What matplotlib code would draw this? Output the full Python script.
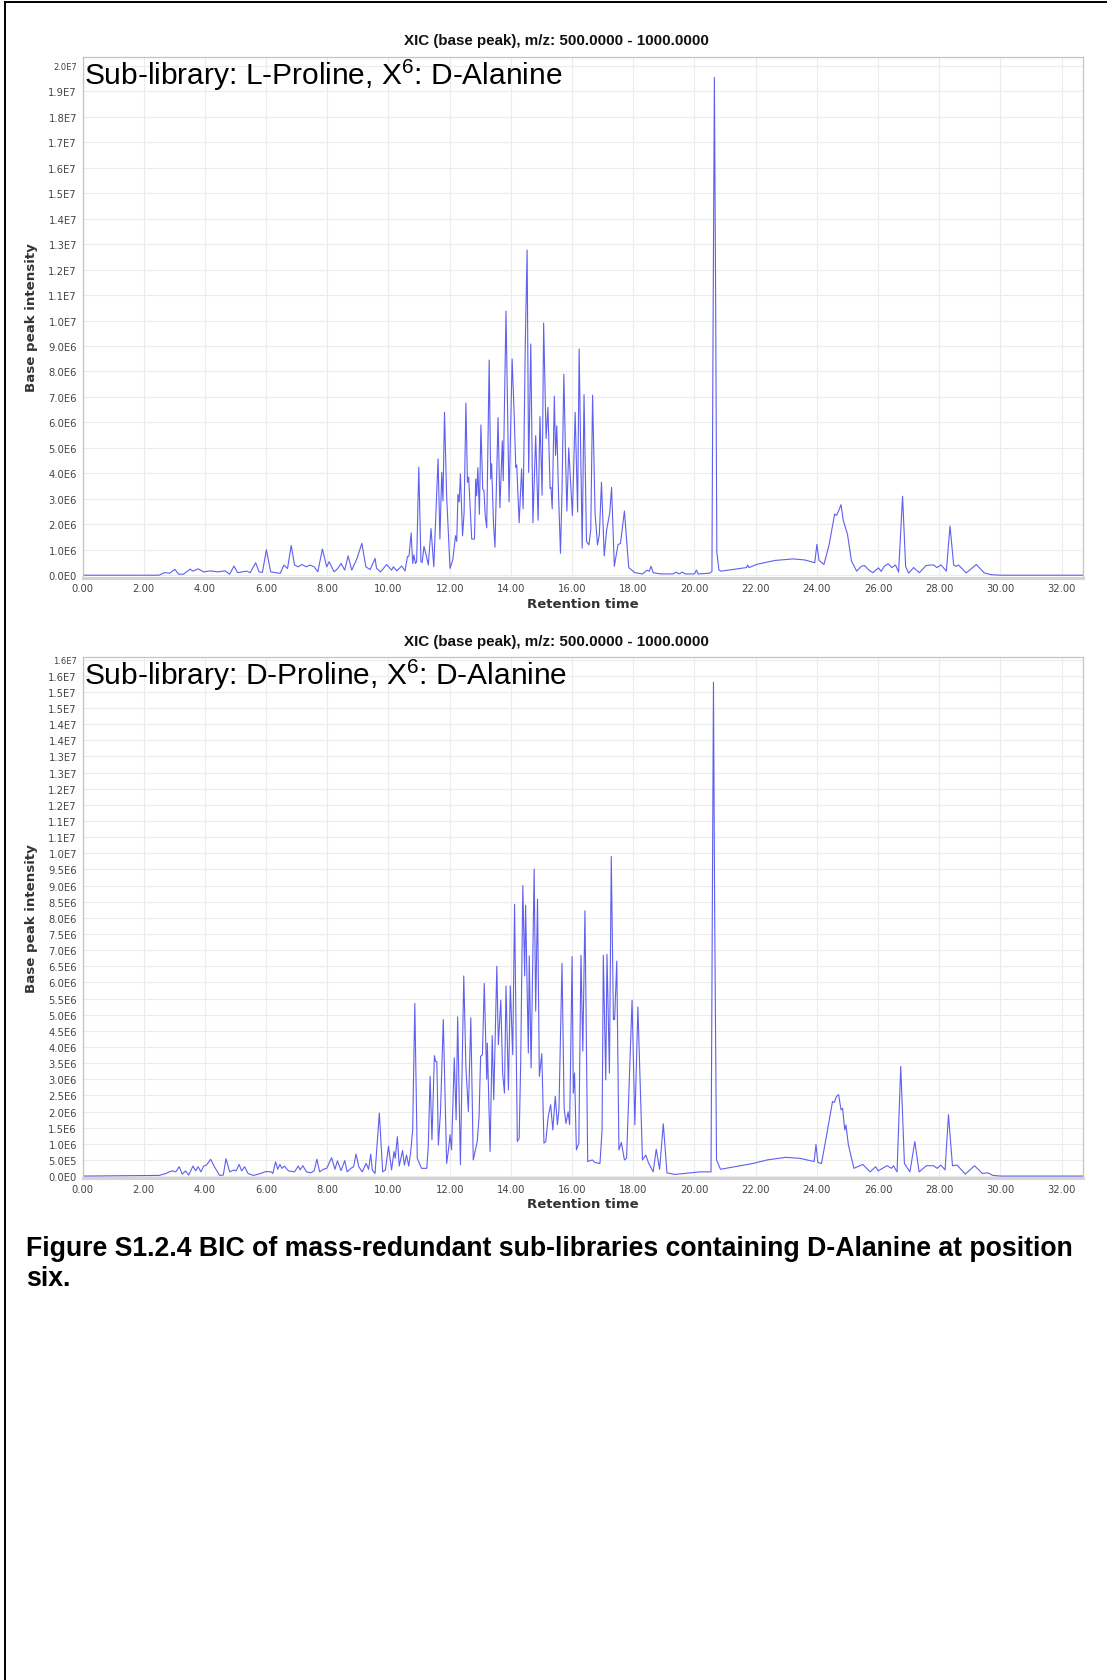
import numpy as np
import matplotlib
matplotlib.use("Agg")
import matplotlib.pyplot as plt
from matplotlib.lines import Line2D

plt.rcParams['font.family'] = ['DejaVu Sans']

# retention time (min) and base peak intensity (x1e6)
top_time = [
    0.00, 2.50, 2.67, 2.85, 3.02, 3.14, 3.30, 3.52, 3.60, 3.78,
    3.96, 4.19, 4.42, 4.66, 4.81, 4.95, 5.07, 5.36, 5.48, 5.66,
    5.77, 5.88, 6.01, 6.15, 6.46, 6.58, 6.70, 6.82, 6.93, 7.05,
    7.17, 7.32, 7.43, 7.57, 7.69, 7.84, 7.98, 8.06, 8.22, 8.34,
    8.45, 8.57, 8.68, 8.80, 8.97, 9.13, 9.26, 9.40, 9.56, 9.61,
    9.74, 9.94, 10.10, 10.16, 10.27, 10.43, 10.54, 10.62, 10.67, 10.74,
    10.79, 10.83, 10.88, 10.92, 10.99, 11.06, 11.10, 11.16, 11.23, 11.30,
    11.39, 11.48, 11.62, 11.68, 11.74, 11.78, 11.83, 11.90, 12.01, 12.10,
    12.19, 12.23, 12.27, 12.31, 12.35, 12.42, 12.47, 12.53, 12.58, 12.62,
    12.72, 12.81, 12.85, 12.88, 12.92, 12.97, 13.02, 13.08, 13.12, 13.16,
    13.21, 13.29, 13.34, 13.37, 13.43, 13.48, 13.58, 13.64, 13.72, 13.75,
    13.84, 13.94, 14.04, 14.10, 14.16, 14.19, 14.27, 14.35, 14.40, 14.47,
    14.53, 14.58, 14.65, 14.72, 14.81, 14.89, 14.95, 15.02, 15.07, 15.15,
    15.21, 15.28, 15.31, 15.35, 15.42, 15.46, 15.50, 15.55, 15.62, 15.67,
    15.73, 15.79, 15.83, 15.89, 15.95, 16.01, 16.10, 16.18, 16.23, 16.33,
    16.39, 16.47, 16.55, 16.61, 16.67, 16.75, 16.83, 16.89, 16.96, 17.05,
    17.13, 17.23, 17.29, 17.38, 17.50, 17.58, 17.71, 17.85, 18.05, 18.30,
    18.45, 18.52, 18.58, 18.65, 18.90, 19.30, 19.40, 19.50, 19.60, 19.70,
    20.00, 20.06, 20.12, 20.50, 20.57, 20.61, 20.65, 20.69, 20.73, 20.80,
    20.87, 21.40, 21.70, 21.74, 21.78, 22.05, 22.63, 23.22, 23.60, 23.93,
    24.00, 24.07, 24.23, 24.40, 24.58, 24.64, 24.70, 24.79, 24.86, 25.00,
    25.13, 25.30, 25.45, 25.56, 25.70, 25.83, 26.01, 26.10, 26.20, 26.33,
    26.45, 26.57, 26.67, 26.80, 26.90, 27.00, 27.16, 27.35, 27.57, 27.70,
    27.82, 27.92, 28.06, 28.23, 28.35, 28.47, 28.55, 28.63, 28.88, 29.21,
    29.47, 29.70, 30.00, 32.68,
]
top_intensity = [
    0, 0, 0.10, 0.08, 0.23, 0.04, 0.04, 0.24, 0.16, 0.25,
    0.13, 0.17, 0.13, 0.17, 0.04, 0.36, 0.10, 0.16, 0.10, 0.49,
    0.13, 0.11, 1.00, 0.13, 0.07, 0.40, 0.26, 1.17, 0.40, 0.33,
    0.42, 0.33, 0.40, 0.33, 0.13, 1.03, 0.33, 0.53, 0.13, 0.26,
    0.46, 0.20, 0.76, 0.20, 0.66, 1.25, 0.33, 0.22, 0.66, 0.27,
    0.13, 0.42, 0.20, 0.33, 0.17, 0.36, 0.17, 0.73, 0.75, 1.66,
    0.46, 0.80, 0.46, 0.53, 4.24, 0.53, 0.50, 1.13, 0.80, 0.40,
    1.83, 0.33, 4.57, 1.42, 4.04, 2.92, 6.40, 3.12, 0.27, 0.60,
    1.55, 1.33, 3.18, 2.88, 3.98, 1.55, 2.45, 6.76, 3.65, 3.85,
    1.42, 1.42, 3.78, 3.12, 4.22, 2.39, 5.90, 3.38, 3.32, 2.35,
    1.86, 8.45, 3.78, 4.38, 2.06, 1.10, 6.19, 2.65, 5.28, 3.71,
    10.37, 2.88, 8.49, 6.56, 4.24, 4.33, 2.06, 4.18, 2.61, 9.08,
    12.77, 4.04, 9.08, 2.06, 5.48, 2.16, 6.23, 3.14, 9.90, 5.37,
    6.59, 3.41, 3.45, 2.61, 7.03, 4.71, 5.87, 3.45, 0.86, 3.25,
    7.89, 4.44, 2.52, 5.00, 3.65, 2.35, 6.40, 2.48, 8.88, 1.06,
    7.09, 1.33, 1.19, 1.79, 7.07, 2.45, 1.19, 1.59, 3.65, 0.76,
    1.79, 2.45, 3.45, 0.35, 1.20, 1.25, 2.52, 0.30, 0.10, 0.05,
    0.20, 0.15, 0.35, 0.10, 0.05, 0.05, 0.12, 0.05, 0.12, 0.05,
    0.05, 0.20, 0.05, 0.08, 0.15, 10.5, 19.55, 11.0, 0.90, 0.20,
    0.16, 0.25, 0.30, 0.40, 0.30, 0.43, 0.58, 0.64, 0.60, 0.49,
    1.21, 0.58, 0.42, 1.20, 2.40, 2.35, 2.50, 2.77, 2.16, 1.60,
    0.56, 0.16, 0.35, 0.38, 0.20, 0.10, 0.29, 0.15, 0.35, 0.45,
    0.30, 0.40, 0.12, 3.10, 0.34, 0.08, 0.30, 0.10, 0.38, 0.40,
    0.40, 0.30, 0.40, 0.16, 1.93, 0.40, 0.35, 0.40, 0.09, 0.42,
    0.09, 0.02, 0, 0,
]

bottom_time = [
    0.00, 2.50, 2.73, 2.83, 2.94, 3.05, 3.16, 3.26, 3.37, 3.47,
    3.61, 3.70, 3.78, 3.87, 3.96, 4.05, 4.19, 4.31, 4.48, 4.60,
    4.69, 4.81, 4.95, 5.02, 5.12, 5.20, 5.30, 5.41, 5.59, 5.82,
    5.99, 6.17, 6.22, 6.31, 6.38, 6.45, 6.52, 6.60, 6.73, 6.93,
    7.05, 7.11, 7.20, 7.32, 7.46, 7.57, 7.66, 7.75, 7.87, 7.98,
    8.14, 8.25, 8.33, 8.45, 8.57, 8.65, 8.77, 8.86, 8.94, 9.03,
    9.14, 9.27, 9.35, 9.42, 9.47, 9.56, 9.70, 9.81, 9.90, 10.00,
    10.10, 10.18, 10.22, 10.29, 10.35, 10.46, 10.52, 10.59, 10.66, 10.72,
    10.79, 10.86, 10.94, 11.08, 11.25, 11.30, 11.36, 11.42, 11.50, 11.54,
    11.58, 11.63, 11.70, 11.79, 11.90, 11.96, 12.01, 12.06, 12.15, 12.21,
    12.26, 12.35, 12.46, 12.53, 12.61, 12.69, 12.77, 12.90, 12.96, 13.01,
    13.07, 13.13, 13.21, 13.23, 13.32, 13.39, 13.44, 13.54, 13.59, 13.67,
    13.73, 13.79, 13.84, 13.92, 13.98, 14.06, 14.12, 14.21, 14.27, 14.32,
    14.39, 14.45, 14.48, 14.57, 14.60, 14.66, 14.76, 14.81, 14.87, 14.93,
    15.01, 15.08, 15.14, 15.22, 15.30, 15.37, 15.45, 15.52, 15.57, 15.67,
    15.74, 15.80, 15.87, 15.92, 16.00, 16.04, 16.08, 16.14, 16.22, 16.29,
    16.35, 16.42, 16.51, 16.66, 16.75, 16.91, 16.98, 17.02, 17.10, 17.14,
    17.22, 17.28, 17.35, 17.39, 17.46, 17.53, 17.61, 17.71, 17.78, 17.96,
    18.05, 18.15, 18.30, 18.41, 18.50, 18.65, 18.75, 18.86, 18.98, 19.10,
    19.35, 20.18, 20.54, 20.58, 20.62, 20.66, 20.72, 20.85, 21.91, 22.38,
    22.97, 23.44, 23.91, 23.97, 24.03, 24.15, 24.33, 24.51, 24.57, 24.64,
    24.71, 24.79, 24.84, 24.91, 24.95, 25.03, 25.21, 25.50, 25.74, 25.92,
    26.00, 26.29, 26.44, 26.50, 26.62, 26.74, 26.86, 27.04, 27.20, 27.34,
    27.58, 27.81, 27.93, 28.05, 28.19, 28.30, 28.43, 28.58, 28.85, 29.15,
    29.41, 29.58, 29.76, 30.00, 32.68,
]
bottom_intensity = [
    0, 0.02, 0.08, 0.13, 0.16, 0.13, 0.29, 0.06, 0.16, 0.03,
    0.31, 0.16, 0.29, 0.13, 0.31, 0.34, 0.52, 0.29, 0.02, 0.03,
    0.54, 0.13, 0.19, 0.16, 0.36, 0.16, 0.29, 0.08, 0.02, 0.08,
    0.14, 0.13, 0.08, 0.44, 0.21, 0.36, 0.24, 0.31, 0.16, 0.13,
    0.31, 0.19, 0.32, 0.13, 0.10, 0.16, 0.52, 0.13, 0.21, 0.24,
    0.57, 0.21, 0.47, 0.17, 0.48, 0.13, 0.24, 0.29, 0.68, 0.29,
    0.13, 0.39, 0.21, 0.68, 0.19, 0.08, 1.95, 0.13, 0.19, 0.93,
    0.19, 0.76, 0.55, 1.22, 0.31, 0.79, 0.34, 0.65, 0.31, 0.70,
    1.43, 5.35, 0.55, 0.24, 0.24, 0.91, 3.09, 1.12, 3.73, 3.55,
    3.55, 0.96, 2.00, 4.85, 0.39, 0.81, 1.28, 0.81, 3.66, 1.74,
    4.93, 0.36, 6.20, 3.38, 2.00, 4.90, 0.50, 1.07, 1.84, 3.71,
    3.76, 5.97, 3.00, 4.12, 0.76, 4.35, 2.36, 6.50, 4.07, 5.45,
    3.19, 2.57, 5.89, 2.67, 5.89, 3.76, 8.42, 1.07, 1.17, 3.50,
    9.00, 6.20, 8.39, 3.81, 6.82, 3.35, 9.51, 5.11, 8.58, 3.09,
    3.79, 1.02, 1.07, 1.84, 2.21, 1.43, 2.47, 1.59, 2.04, 6.59,
    2.10, 1.63, 1.99, 1.59, 6.80, 2.57, 3.19, 0.81, 1.02, 6.84,
    3.87, 8.22, 0.45, 0.50, 0.42, 0.39, 1.43, 6.84, 2.98, 6.87,
    3.19, 9.90, 4.85, 4.85, 6.66, 0.81, 1.04, 0.50, 0.55, 5.45,
    1.59, 5.24, 0.50, 0.65, 0.40, 0.13, 0.83, 0.21, 1.62, 0.10,
    0.05, 0.13, 0.13, 8.00, 15.30, 8.00, 0.50, 0.21, 0.39, 0.50,
    0.58, 0.55, 0.45, 0.98, 0.42, 0.39, 1.33, 2.31, 2.28, 2.47,
    2.52, 2.05, 2.10, 1.43, 1.58, 0.96, 0.24, 0.36, 0.13, 0.29,
    0.16, 0.32, 0.24, 0.32, 0.13, 3.40, 0.39, 0.13, 1.07, 0.13,
    0.32, 0.32, 0.24, 0.34, 0.19, 1.90, 0.32, 0.34, 0.06, 0.32,
    0.08, 0.10, 0.02, 0, 0,
]

x_ticks = [0, 2, 4, 6, 8, 10, 12, 14, 16, 18, 20, 22, 24, 26, 28, 30, 32]
x_labels = ["0.00", "2.00", "4.00", "6.00", "8.00", "10.00", "12.00", "14.00", "16.00",
            "18.00", "20.00", "22.00", "24.00", "26.00", "28.00", "30.00", "32.00"]

top_yticks = np.arange(0, 20.5, 1.0)
top_ylabels = ["0.0E0", "1.0E6", "2.0E6", "3.0E6", "4.0E6", "5.0E6", "6.0E6", "7.0E6",
               "8.0E6", "9.0E6", "1.0E7", "1.1E7", "1.2E7", "1.3E7", "1.4E7", "1.5E7",
               "1.6E7", "1.7E7", "1.8E7", "1.9E7", "2.0E7"]
bottom_yticks = np.arange(0, 16.25, 0.5)
bottom_ylabels = ["0.0E0", "5.0E5", "1.0E6", "1.5E6", "2.0E6", "2.5E6", "3.0E6", "3.5E6",
                  "4.0E6", "4.5E6", "5.0E6", "5.5E6", "6.0E6", "6.5E6", "7.0E6", "7.5E6",
                  "8.0E6", "8.5E6", "9.0E6", "9.5E6", "1.0E7", "1.1E7", "1.1E7", "1.2E7",
                  "1.2E7", "1.3E7", "1.3E7", "1.4E7", "1.4E7", "1.5E7", "1.5E7", "1.6E7",
                  "1.6E7"]

chart_title = "XIC (base peak), m/z: 500.0000 - 1000.0000"
top_label = r"Sub-library: L-Proline, X$\mathregular{^6}$: D-Alanine"
bottom_label = r"Sub-library: D-Proline, X$\mathregular{^6}$: D-Alanine"
caption_lines = ["Figure S1.2.4 BIC of mass-redundant sub-libraries containing D-Alanine at position",
                 "six."]

W, H = 1107, 1681
fig = plt.figure(figsize=(W / 100, H / 100), dpi=100)
fig.patch.set_facecolor("white")


def box(left, top, right, bottom):
    return [left / W, 1 - bottom / H, (right - left) / W, (bottom - top) / H]


line_color = "#5f5ff0"
panels = [
    (box(82.5, 57.5, 1082.5, 578.5), top_time, top_intensity, top_yticks, top_ylabels,
     (-0.09, 20.37), top_label, 41),
    (box(82.5, 658, 1082.5, 1179), bottom_time, bottom_intensity, bottom_yticks, bottom_ylabels,
     (-0.06, 16.08), bottom_label, 642),
]

for rect, t, inten, yt, ylab, ylim, label, title_y in panels:
    ax = fig.add_axes(rect)
    ax.plot(t, np.array(inten) * 1e6, color=line_color, lw=0.8)
    ax.set_xlim(0, 32.68)
    ax.set_ylim(ylim[0] * 1e6, ylim[1] * 1e6)
    ax.set_xticks(x_ticks)
    ax.set_xticklabels(x_labels)
    ax.set_yticks(yt * 1e6)
    ax.set_yticklabels(ylab)
    ax.tick_params(axis="both", labelsize=7.2, colors="#444444", length=0, pad=4)
    ax.yaxis.get_ticklabels()[-1].set_fontsize(6)
    ax.grid(True, color="#ececec", lw=0.8)
    ax.set_axisbelow(True)
    for s in ["top", "right", "left"]:
        ax.spines[s].set_color("#c4c4c4")
        ax.spines[s].set_linewidth(0.9)
    ax.spines["bottom"].set_color("#d4d4d4")
    ax.spines["bottom"].set_linewidth(2.2)
    ax.set_xlabel("Retention time", fontsize=9.5, fontweight="bold", color="#333333")
    ax.set_ylabel("Base peak intensity", fontsize=9.6, fontweight="bold", color="#333333")
    ax.xaxis.set_label_coords(0.5, -0.037)
    ax.yaxis.set_label_coords(-0.044, 0.5)
    ax.text(0.002, 0.948, label, transform=ax.transAxes, fontsize=21.5,
            family=["Liberation Sans", "DejaVu Sans"], color="black", va="baseline", ha="left")
    fig.text(556 / W, 1 - title_y / H, chart_title, fontsize=10.9, fontweight="bold",
             family=["Liberation Sans", "DejaVu Sans"], ha="center", va="center", color="#111111")

# caption under the charts
fig.text(26 / W, 1 - 1256 / H, caption_lines[0], fontsize=19.2, fontweight="bold",
         family=["Liberation Sans", "DejaVu Sans"], ha="left", va="baseline")
fig.text(26 / W, 1 - 1286 / H, caption_lines[1], fontsize=19.2, fontweight="bold",
         family=["Liberation Sans", "DejaVu Sans"], ha="left", va="baseline")

# page frame lines on the left and top edges
fig.add_artist(Line2D([4.5 / W, 4.5 / W], [0, 1 - 3 / H], transform=fig.transFigure,
                      color="black", lw=1.4))
fig.add_artist(Line2D([4.5 / W, 1], [1 - 3 / H, 1 - 3 / H], transform=fig.transFigure,
                      color="black", lw=1.4))

fig.savefig("out.png", dpi=100, facecolor="white")
